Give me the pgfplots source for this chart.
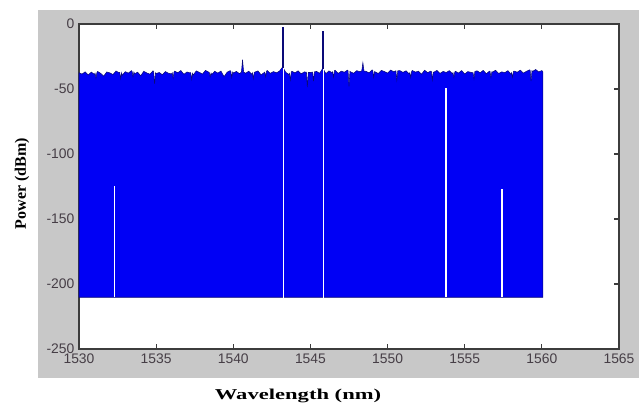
\documentclass[border=0pt]{standalone}
\usepackage{fontspec}
\setmainfont{Liberation Serif}
\newfontfamily\ticksf{Liberation Sans}
\usepackage{pgfplots}
\pgfplotsset{compat=1.18}
\definecolor{figgray}{RGB}{200,200,200}
\definecolor{spblue}{RGB}{0,0,245}
\definecolor{spedge}{RGB}{10,10,120}
\definecolor{axgray}{RGB}{60,60,60}
\definecolor{lblgray}{RGB}{70,62,70}

\begin{document}
\begin{tikzpicture}
% page and figure panel (1 px = 0.75 pt)
\useasboundingbox (-59.25pt,-42.75pt) rectangle (420pt,261.75pt);
\fill[figgray] (-30.75pt,-21.75pt) rectangle (420pt,254.25pt);
\begin{axis}[
	scale only axis,
	width=405pt, height=243.75pt,
	xmin=1530, xmax=1565,
	ymin=-250, ymax=0,
	xtick={1530,1535,...,1565},
	ytick={-250,-200,...,0},
	tick align=inside,
	tick pos=both,
	major tick length=3.75pt,
	scaled ticks=false,
	/pgf/number format/1000 sep={},
	/pgf/number format/assume math mode=true,
	tick label style={font=\ticksf\fontsize{10.4}{12}\selectfont, text=lblgray},
	axis line style={axgray, line width=0.8pt},
	every tick/.style={axgray, line width=0.8pt},
	axis background/.style={fill=white},
	xlabel={\scalebox{1.5}[1]{\bfseries\fontsize{11.3}{13}\selectfont Wavelength (nm)}},
	every axis x label/.style={at={(axis description cs:0.4056,-0.1446)}, anchor=center},
	ylabel={\bfseries\fontsize{12}{14}\selectfont Power (dBm)},
	every axis y label/.style={at={(axis description cs:-0.1056,0.509)}, anchor=center, rotate=90},
]
% spectrum (filled)
\addplot[fill=spblue, draw=spedge, line width=0.4pt] coordinates {
(1530.0,-210.2)
(1530.0,-37.5)(1530.2,-38.5)(1530.4,-36.8)(1530.6,-39.2)(1530.8,-37.0)
(1531.0,-38.8)(1531.04,-37.8)(1531.1,-41.5)(1531.16,-37.5)(1531.2,-36.5)
(1531.4,-37.9)(1531.6,-40.1)(1531.8,-36.9)
(1532.0,-37.6)(1532.2,-38.9)(1532.4,-36.2)(1532.6,-37.4)(1532.64,-37.2)
(1532.7,-42.0)(1532.76,-37.6)(1532.8,-39.5)
(1533.0,-36.7)(1533.2,-37.8)(1533.4,-35.9)(1533.44,-36.4)(1533.5,-40.5)
(1533.56,-37.0)(1533.6,-38.3)(1533.8,-37.1)
(1534.0,-39.8)(1534.2,-36.4)(1534.4,-37.7)(1534.6,-38.6)(1534.8,-36.0)
(1534.84,-37.0)(1534.9,-46.0)(1534.96,-37.5)
(1535.0,-38.1)(1535.2,-37.3)(1535.4,-39.0)(1535.6,-36.6)(1535.8,-37.9)
(1536.0,-38.4)(1536.04,-37.5)(1536.1,-41.5)(1536.16,-37.0)(1536.2,-36.3)
(1536.4,-37.5)(1536.6,-35.8)(1536.8,-38.7)
(1537.0,-36.9)(1537.2,-37.6)(1537.24,-37.4)(1537.3,-42.5)(1537.36,-38.0)
(1537.4,-39.3)(1537.6,-36.1)(1537.8,-37.2)
(1538.0,-38.5)(1538.2,-35.7)(1538.4,-37.0)(1538.44,-37.2)(1538.5,-40.5)
(1538.56,-37.8)(1538.6,-38.9)(1538.8,-36.4)
(1539.0,-37.8)(1539.2,-36.2)(1539.4,-40.5)(1539.6,-37.1)(1539.8,-35.9)
(1539.84,-36.5)(1539.9,-41.0)(1539.96,-37.0)
(1540.0,-37.7)(1540.2,-36.5)(1540.4,-38.2)(1540.53,-37.0)(1540.6,-27.5)
(1540.67,-37.0)(1540.8,-37.9)
(1541.0,-36.3)(1541.2,-38.6)(1541.24,-37.6)(1541.3,-42.0)(1541.36,-37.2)
(1541.4,-37.0)(1541.6,-36.1)(1541.8,-39.1)
(1542.0,-37.4)(1542.04,-37.0)(1542.1,-40.5)(1542.16,-36.2)(1542.2,-35.8)
(1542.4,-38.0)(1542.6,-36.6)(1542.8,-37.5)
(1543.0,-36.2)(1543.2,-33.0)(1543.4,-37.2)(1543.6,-38.8)(1543.64,-38.0)
(1543.7,-43.0)(1543.76,-37.0)
(1543.8,-36.4)(1544.0,-37.6)(1544.2,-36.0)(1544.4,-38.3)(1544.6,-36.9)
(1544.74,-37.0)(1544.8,-48.5)(1544.86,-37.3)(1545.0,-37.3)(1545.14,-37.0)
(1545.2,-44.0)(1545.26,-36.8)(1545.4,-36.5)(1545.6,-37.9)
(1545.8,-34.0)(1546.0,-38.2)(1546.2,-36.1)(1546.4,-37.4)(1546.44,-36.8)
(1546.5,-41.0)(1546.56,-36.0)(1546.6,-35.6)
(1546.8,-38.0)(1547.0,-36.3)(1547.2,-37.1)(1547.4,-35.5)(1547.44,-36.0)
(1547.5,-48.0)(1547.56,-36.5)
(1547.6,-36.8)(1547.8,-37.9)(1548.0,-35.9)(1548.2,-36.7)(1548.33,-36.0)
(1548.4,-29.8)(1548.47,-36.2)
(1548.6,-36.4)(1548.8,-37.6)(1549.0,-35.3)(1549.04,-35.8)(1549.1,-41.0)
(1549.16,-36.5)(1549.2,-36.9)(1549.4,-38.1)
(1549.6,-35.7)(1549.8,-36.6)(1550.0,-37.8)(1550.2,-35.4)(1550.4,-36.8)
(1550.54,-36.0)(1550.6,-43.0)(1550.66,-36.0)(1550.8,-35.9)(1551.0,-37.2)
(1551.2,-36.0)(1551.4,-38.4)(1551.44,-37.5)(1551.5,-41.0)(1551.56,-36.5)
(1551.6,-35.8)(1551.8,-37.0)(1552.0,-36.3)(1552.2,-38.6)(1552.4,-35.6)
(1552.6,-37.4)(1552.8,-36.2)(1552.84,-36.5)(1552.9,-43.0)(1552.96,-37.0)
(1553.0,-37.1)(1553.2,-35.7)
(1553.4,-38.0)(1553.6,-36.5)(1553.8,-37.3)(1554.0,-35.9)(1554.2,-38.2)
(1554.24,-37.5)(1554.3,-41.0)(1554.36,-36.8)
(1554.4,-36.4)(1554.6,-37.7)(1554.8,-35.8)(1555.0,-38.5)(1555.2,-36.6)
(1555.4,-37.2)(1555.54,-37.5)(1555.6,-42.0)(1555.66,-36.5)(1555.8,-36.0)
(1556.0,-37.5)(1556.2,-35.7)
(1556.4,-38.3)(1556.6,-36.3)(1556.64,-36.5)(1556.7,-41.0)(1556.76,-36.8)
(1556.8,-37.0)(1557.0,-35.6)(1557.2,-38.1)
(1557.4,-36.8)(1557.6,-37.4)(1557.8,-35.9)(1558.0,-38.6)(1558.04,-37.5)
(1558.1,-41.0)(1558.16,-36.5)(1558.2,-36.2)
(1558.4,-37.1)(1558.6,-35.5)(1558.8,-37.8)(1559.0,-36.4)(1559.2,-35.3)
(1559.24,-35.5)(1559.3,-44.0)(1559.36,-36.0)
(1559.4,-36.5)(1559.6,-35.0)(1559.8,-36.9)(1560.0,-35.8)
(1560.07,-37.0)
(1560.07,-210.2)
} -- cycle;
% white gaps in the spectrum
\addplot[white, line width=1pt] coordinates {(1532.29,-210.2)(1532.29,-125)};
\addplot[white, line width=1pt] coordinates {(1543.25,-211)(1543.25,-34)};
\addplot[white, line width=1pt] coordinates {(1545.85,-211)(1545.85,-35)};
\addplot[white, line width=1pt] coordinates {(1553.78,-210.2)(1553.78,-49.5)};
\addplot[white, line width=1pt] coordinates {(1557.41,-210.2)(1557.41,-127)};
% signal peaks
\addplot[spedge, line width=1.4pt] coordinates {(1543.2,-34)(1543.2,-2)};
\addplot[spedge, line width=1.4pt] coordinates {(1545.8,-35)(1545.8,-5.2)};
\end{axis}
\end{tikzpicture}
\end{document}
